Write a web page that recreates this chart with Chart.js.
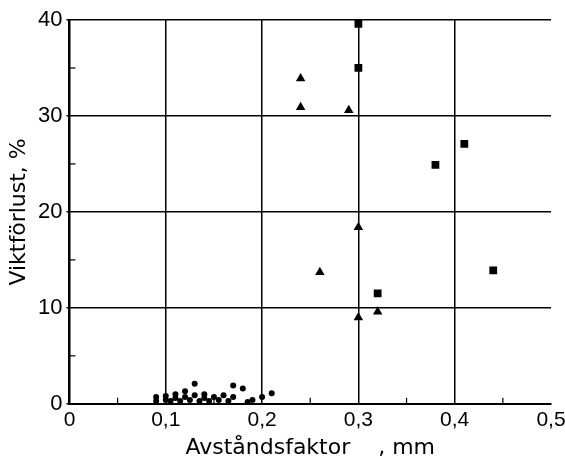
<!DOCTYPE html>
<html>
<head>
<meta charset="utf-8">
<script src="https://cdn.jsdelivr.net/npm/chart.js@4/dist/chart.umd.min.js"></script>
<style>
  html, body { margin: 0; padding: 0; background: #fff; }
  #wrap { width: 565px; height: 461px; }
</style>
</head>
<body>
<div id="wrap"><canvas id="chart" width="565" height="461"></canvas></div>
<script>
// Data (x = Avståndsfaktor mm, y = Viktförlust %)
const circleX = [0.09, 0.09, 0.10, 0.10, 0.105, 0.11, 0.11, 0.115, 0.12, 0.12, 0.125, 0.13, 0.13, 0.135, 0.14, 0.14, 0.145, 0.15, 0.155, 0.16, 0.165, 0.17, 0.17, 0.18, 0.185, 0.19, 0.20, 0.21];
const circleY = [0.3, 0.7, 0.4, 0.8, 0.3, 0.6, 1.0, 0.3, 0.7, 1.3, 0.4, 2.1, 0.9, 0.3, 0.6, 1.0, 0.3, 0.7, 0.4, 0.9, 0.3, 0.7, 1.9, 1.6, 0.2, 0.4, 0.7, 1.1];

const triangleX = [0.24, 0.24, 0.29, 0.30, 0.26, 0.30, 0.32];
const triangleY = [33.9, 30.9, 30.6, 18.4, 13.7, 9.0, 9.6];

const squareX = [0.30, 0.30, 0.38, 0.41, 0.44, 0.32];
const squareY = [39.6, 35.0, 24.9, 27.1, 13.9, 11.5];

const xTicks = [0, 0.1, 0.2, 0.3, 0.4, 0.5];
const yTicks = [0, 10, 20, 30, 40];

function toPoints(xs, ys) {
    return xs.map((x, i) => ({ x: x, y: ys[i] }));
}

// small minor ticks on the axes (y every 5, x every 0.05)
const minorTicks = {
    id: 'minorTicks',
    afterDraw(chart) {
        const ctx = chart.ctx;
        const xs = chart.scales.x;
        const ys = chart.scales.y;
        ctx.save();
        ctx.strokeStyle = '#000';
        ctx.lineWidth = 1.2;
        for (let v = 5; v < 40; v += 10) {
            let py = ys.getPixelForValue(v);
            ctx.beginPath();
            ctx.moveTo(xs.left, py);
            ctx.lineTo(xs.left + 6, py);
            ctx.stroke();
        }
        for (let v = 0.05; v < 0.5; v += 0.1) {
            let px = xs.getPixelForValue(v);
            ctx.beginPath();
            ctx.moveTo(px, ys.bottom);
            ctx.lineTo(px, ys.bottom - 6);
            ctx.stroke();
        }
        ctx.restore();
    }
};

const xTickFont = { family: "'Liberation Sans', Arial, sans-serif", size: 21 };
const yTickFont = { family: "'Liberation Sans', Arial, sans-serif", size: 22 };
const titleFont = { family: "'DejaVu Sans', sans-serif", size: 22, lineHeight: 1.0 };

new Chart(document.getElementById('chart'), {
    type: 'scatter',
    data: {
        datasets: [
            {
                data: toPoints(circleX, circleY),
                pointStyle: 'circle',
                pointRadius: 3,
                backgroundColor: '#000',
                borderColor: '#000',
                borderWidth: 0
            },
            {
                data: toPoints(triangleX, triangleY),
                pointStyle: 'triangle',
                pointRadius: 5.5,
                backgroundColor: '#000',
                borderColor: '#000',
                borderWidth: 0
            },
            {
                data: toPoints(squareX, squareY),
                pointStyle: 'rect',
                pointRadius: 5.5,
                backgroundColor: '#000',
                borderColor: '#000',
                borderWidth: 0
            }
        ]
    },
    options: {
        responsive: false,
        animation: false,
        layout: { padding: { top: 20, right: 0, left: 8, bottom: 2 } },
        plugins: {
            legend: { display: false },
            tooltip: { enabled: false }
        },
        scales: {
            x: {
                type: 'linear',
                min: 0,
                max: 0.5,
                afterBuildTicks: (axis) => { axis.ticks = xTicks.map(v => ({ value: v })); },
                afterFit: (axis) => { axis.paddingRight = 14; },
                ticks: {
                    color: '#000',
                    font: xTickFont,
                    padding: 4,
                    callback: (v) => v === 0 ? '0' : v.toFixed(1).replace('.', ',')
                },
                grid: {
                    color: (c) => c.tick && c.tick.value === 0.5 ? 'rgba(0,0,0,0)' : '#000',
                    lineWidth: 1.5,
                    drawTicks: false
                },
                border: { display: true, color: '#000', width: 2 },
                title: {
                    display: true,
                    text: 'Avståndsfaktor    , mm',
                    color: '#000',
                    font: titleFont,
                    padding: { top: 0, bottom: 0 }
                }
            },
            y: {
                type: 'linear',
                min: 0,
                max: 40,
                afterBuildTicks: (axis) => { axis.ticks = yTicks.map(v => ({ value: v })); },
                ticks: {
                    color: '#000',
                    font: yTickFont,
                    padding: 4
                },
                grid: {
                    color: '#000',
                    lineWidth: 1.5,
                    drawTicks: true,
                    tickLength: 3
                },
                border: { display: true, color: '#000', width: 2 },
                title: {
                    display: true,
                    text: 'Viktförlust, %',
                    color: '#000',
                    font: titleFont,
                    padding: { top: 0, bottom: 4 }
                }
            }
        }
    },
    plugins: [minorTicks]
});
</script>
</body>
</html>
